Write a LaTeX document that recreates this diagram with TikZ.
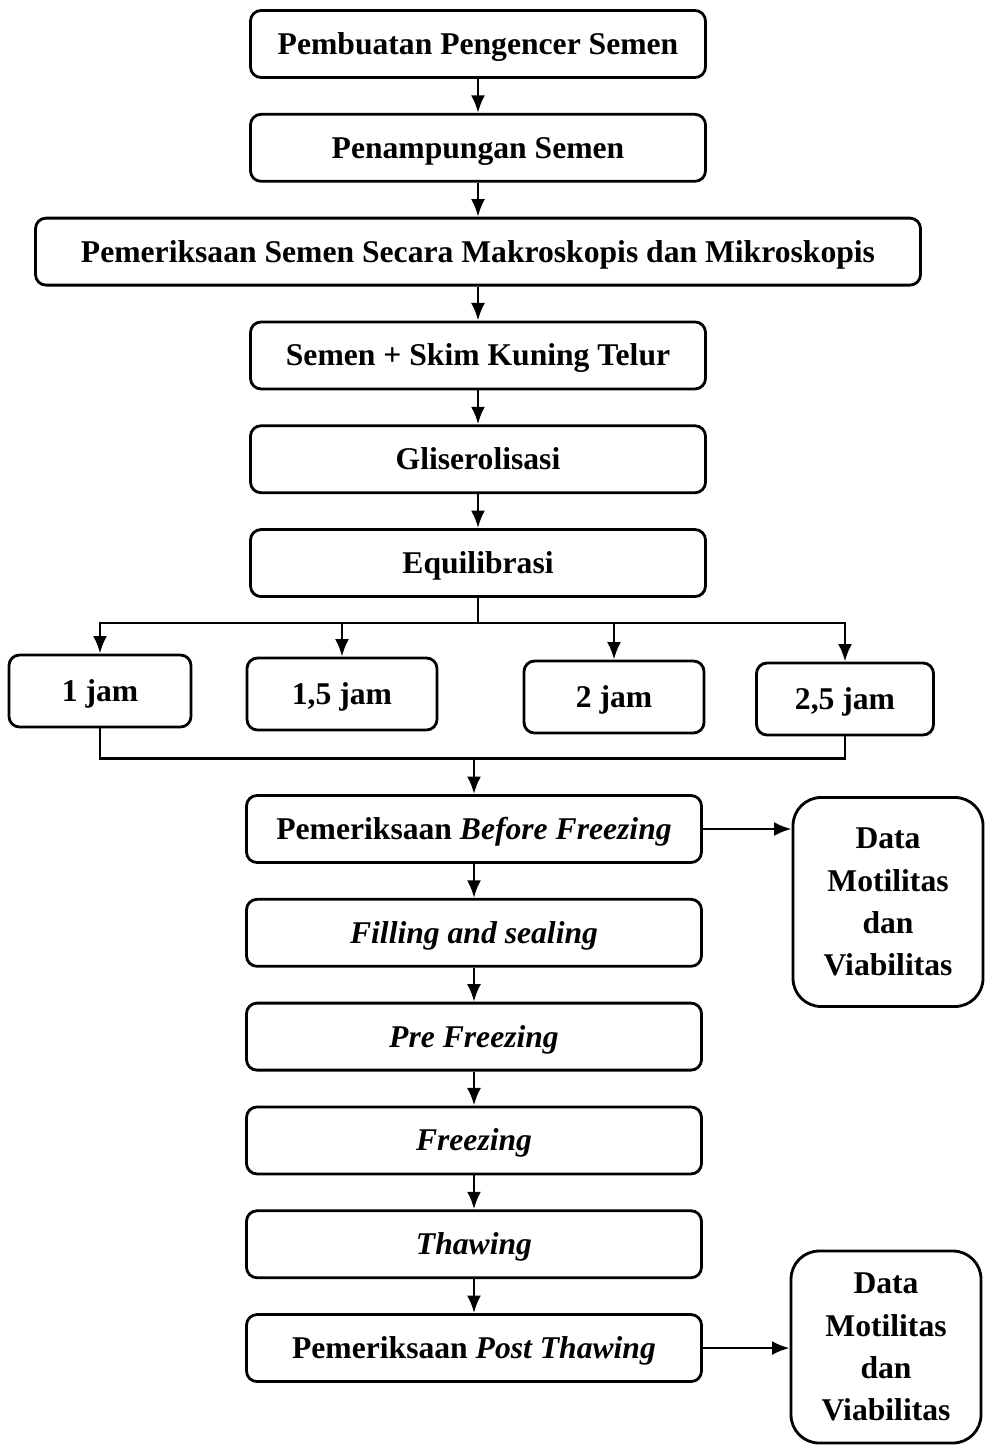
\documentclass[tikz,border=0pt]{standalone}
\usepackage{fontspec}
\setmainfont{Liberation Serif}
\usetikzlibrary{shapes.geometric, arrows, arrows.meta, positioning, calc}

\begin{document}
\begin{tikzpicture}[node distance=0.68cm, font=\fontsize{18}{24}\selectfont\bfseries]
        \tikzstyle{process} = [rectangle, rounded corners=6pt, minimum width=9.1cm, minimum height=1.34cm, text height=14pt, text depth=2pt, text centered, align=center, draw=black, line width=1.6pt]
        \tikzstyle{timebox} = [rectangle, rounded corners=6pt, minimum height=1.44cm, text height=14pt, text depth=2pt, text centered, align=center, draw=black, line width=1.6pt]
        \tikzstyle{databox} = [rectangle, rounded corners=16pt, minimum width=3.8cm, text centered, align=center, draw=black, line width=1.6pt]
        \tikzstyle{arrow} = [line width=1.6pt,-{Latex[length=10pt,width=8pt]}]
        \tikzstyle{line} = [line width=1.6pt]

        \useasboundingbox (0,0) rectangle (19.68,-28.96);

        \node (buat) [process] at (9.56,-0.88) {Pembuatan Pengencer Semen};
        \node (tampung) [process, below=of buat] {Penampungan Semen};
        \node (periksa) [process, below=of tampung, minimum width=17.7cm] {Pemeriksaan Semen Secara Makroskopis dan Mikroskopis};
        \node (skim) [process, below=of periksa] {Semen + Skim Kuning Telur};
        \node (gliser) [process, below=of skim] {Gliserolisasi};
        \node (equil) [process, below=of gliser] {Equilibrasi};

        \node (jam1) [timebox, minimum width=3.64cm] at (2.0,-13.82) {1 jam};
        \node (jam15) [timebox, minimum width=3.8cm] at (6.84,-13.88) {1,5 jam};
        \node (jam2) [timebox, minimum width=3.6cm] at (12.28,-13.94) {2 jam};
        \node (jam25) [timebox, minimum width=3.54cm] at (16.9,-13.98) {2,5 jam};

        \node (before) [process] at (9.48,-16.58) {Pemeriksaan \textit{Before Freezing}};
        \node (filling) [process, below=of before] {\textit{Filling and sealing}};
        \node (pre) [process, below=of filling] {\textit{Pre Freezing}};
        \node (freeze) [process, below=of pre] {\textit{Freezing}};
        \node (thaw) [process, below=of freeze] {\textit{Thawing}};
        \node (post) [process, below=of thaw] {Pemeriksaan \textit{Post Thawing}};

        \node (data1) [databox, minimum height=4.18cm] at (17.76,-18.04) {Data\\Motilitas\\dan\\Viabilitas};
        \node (data2) [databox, minimum height=3.84cm] at (17.72,-26.94) {Data\\Motilitas\\dan\\Viabilitas};

        \coordinate (split) at ($(equil.south)+(0,-0.5)$);
        \coordinate (merge) at ($(jam1.south)+(0,-0.6)$);

        \draw [arrow] (buat) -- (tampung);
        \draw [arrow] (tampung) -- (periksa);
        \draw [arrow] (periksa) -- (skim);
        \draw [arrow] (skim) -- (gliser);
        \draw [arrow] (gliser) -- (equil);

        \draw [line] (equil.south) -- (split);
        \draw [arrow] (split) -| (jam1.north);
        \draw [arrow] (split) -| (jam25.north);
        \draw [arrow] (split -| jam15.north) -- (jam15.north);
        \draw [arrow] (split -| jam2.north) -- (jam2.north);

        \draw [line] (jam1.south) -- (merge) -| (jam25.south);
        \draw [arrow] (merge -| before.north) -- (before.north);

        \draw [arrow] (before) -- (filling);
        \draw [arrow] (filling) -- (pre);
        \draw [arrow] (pre) -- (freeze);
        \draw [arrow] (freeze) -- (thaw);
        \draw [arrow] (thaw) -- (post);

        \draw [arrow] (before.east) -- (before.east -| data1.west);
        \draw [arrow] (post.east) -- (post.east -| data2.west);
    \end{tikzpicture}
\end{document}
